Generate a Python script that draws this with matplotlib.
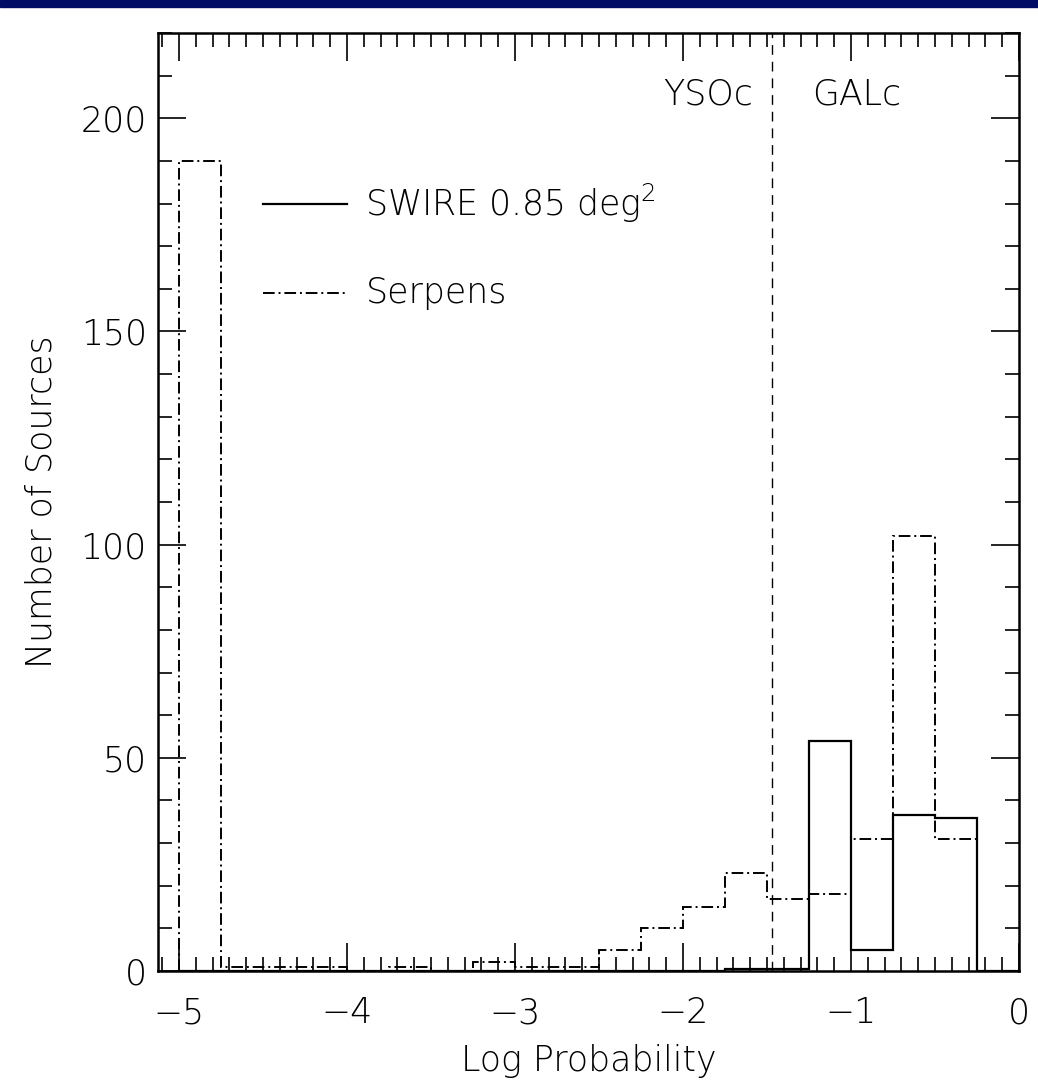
import matplotlib
matplotlib.use("Agg")
import matplotlib.pyplot as plt
import numpy as np
from matplotlib.patches import Rectangle
from matplotlib.ticker import MultipleLocator

# Histogram bin edges (Log Probability), 0.25 wide from -5 to 0
bin_edges = [-5.0, -4.75, -4.5, -4.25, -4.0, -3.75, -3.5, -3.25, -3.0, -2.75,
             -2.5, -2.25, -2.0, -1.75, -1.5, -1.25, -1.0, -0.75, -0.5, -0.25, 0.0]
serpens_counts = [190, 1, 1, 1, 0, 1, 0, 2, 1, 1,
                  5, 10, 15, 23, 17, 18, 31, 102, 31, 0]
swire_counts = [0, 0, 0, 0, 0, 0, 0, 0, 0, 0,
                0, 0, 0, 0.5, 0.5, 54, 5, 36.6, 35.8, 0]
divider_x = -1.47
legend_labels = ["SWIRE 0.85 deg$^2$", "Serpens"]
region_labels = ["YSOc", "GALc"]

plt.rcParams['font.family'] = ['DejaVu Sans']
plt.rcParams['font.weight'] = 'light'
plt.rcParams['axes.labelweight'] = 'light'
plt.rcParams['mathtext.default'] = 'regular'
FS = 25

fig = plt.figure(figsize=(10.38, 10.91), dpi=100)
fig.patches.append(Rectangle((0, 1 - 7 / 1091), 1, 7 / 1091, transform=fig.transFigure,
                             color='#000b66', zorder=10))
ax = fig.add_axes([158 / 1038, 120 / 1091, (1019 - 158) / 1038, (971 - 33) / 1091])

ax.stairs(swire_counts, bin_edges, color='black', lw=1.6, linestyle='-')
ax.stairs(serpens_counts, bin_edges, color='black', lw=1.4, linestyle=(0, (6, 2, 1, 2)))
ax.axvline(divider_x, color='black', lw=1.0, linestyle=(0, (7, 5)))

ax.set_xlim(-5.125, 0)
ax.set_ylim(0, 220)
ax.xaxis.set_major_locator(MultipleLocator(1))
ax.xaxis.set_minor_locator(MultipleLocator(0.1))
ax.yaxis.set_major_locator(MultipleLocator(50))
ax.yaxis.set_minor_locator(MultipleLocator(10))
ax.tick_params(which='both', direction='in', top=True, right=True, width=1.2, color='black')
ax.tick_params(which='major', length=20, labelsize=FS)
ax.tick_params(axis='x', which='major', pad=18)
ax.tick_params(axis='y', which='major', pad=8)
ax.tick_params(which='minor', length=10)
for s in ax.spines.values():
    s.set_linewidth(1.8)

ax.set_xlabel("Log Probability", fontsize=FS, labelpad=10)
ax.set_ylabel("Number of Sources", fontsize=FS, labelpad=16)

# legend drawn as lines + text
ax.plot([-4.5, -4.0], [180, 180], color='black', lw=1.6, linestyle='-')
ax.plot([-4.5, -4.0], [159, 159], color='black', lw=1.4, linestyle=(0, (6, 2, 1, 2)))
ax.text(-3.89, 180, legend_labels[0], fontsize=FS, va='center', ha='left')
ax.text(-3.89, 159, legend_labels[1], fontsize=FS, va='center', ha='left')

ax.text(divider_x - 0.11, 205.5, region_labels[0], fontsize=FS, va='center', ha='right')
ax.text(divider_x + 0.24, 205.5, region_labels[1], fontsize=FS, va='center', ha='left')

fig.savefig("out.png", dpi=100)
